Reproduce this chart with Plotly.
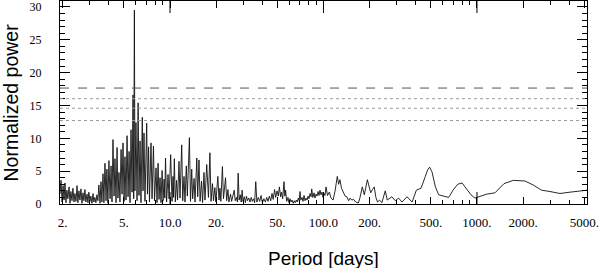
import plotly.graph_objects as go

# Periodogram (period in days, normalized power)
period = [
    1.92, 1.95, 1.98, 2.01, 2.04, 2.07, 2.10, 2.13, 2.16, 2.20, 2.23, 2.26, 2.30, 2.33, 2.37, 2.40,
    2.44, 2.48, 2.51, 2.55, 2.59, 2.63, 2.67, 2.71, 2.75, 2.79, 2.83, 2.88, 2.92, 2.96, 3.01, 3.05,
    3.10, 3.15, 3.19, 3.24, 3.29, 3.34, 3.39, 3.44, 3.50, 3.55, 3.60, 3.66, 3.71, 3.77, 3.83, 3.88,
    3.94, 4.00, 4.07, 4.13, 4.19, 4.25, 4.32, 4.38, 4.45, 4.52, 4.58, 4.65, 4.72, 4.80, 4.87, 4.94,
    5.02, 5.09, 5.17, 5.25, 5.33, 5.41, 5.49, 5.57, 5.66, 5.74, 5.80, 5.86, 5.91, 6.00, 6.10, 6.20,
    6.28, 6.38, 6.47, 6.60, 6.67, 6.77, 6.87, 7.05, 7.13, 7.25, 7.35, 7.52, 7.64, 7.80, 7.93, 8.11,
    8.23, 8.36, 8.48, 8.61, 8.74, 8.88, 9.01, 9.15, 9.25, 9.35, 9.50, 9.71, 9.86, 10.1, 10.31, 10.46,
    10.55, 10.67, 10.83, 11.03, 11.2, 11.45, 11.62, 11.92, 12.1, 12.34, 12.52, 12.77, 12.97, 13.38, 13.6, 13.85,
    14.05, 14.35, 14.55, 14.95, 15.15, 15.45, 15.7, 16.05, 16.3, 16.65, 16.9, 17.35, 17.8, 18.2, 18.5, 18.9,
    19.2, 19.6, 19.9, 20.5, 20.85, 21.15, 21.45, 21.95, 22.3, 23.0, 23.4, 23.85, 24.2, 24.8, 25.2, 25.8,
    26.2, 26.6, 27.1, 27.5, 27.8, 28.2, 28.7, 29.1, 29.5, 29.9, 30.5, 31.0, 31.5, 32.0, 32.6, 33.2,
    33.8, 34.4, 35.0, 35.6, 36.2, 36.8, 37.6, 38.4, 39.2, 40.0, 40.9, 41.8, 42.7, 43.5, 44.4, 45.3,
    46.2, 47.0, 48.0, 48.8, 49.8, 50.8, 51.6, 52.6, 53.3, 54.2, 55.3, 56.0, 56.6, 57.6, 58.7, 59.6,
    60.5, 61.5, 62.4, 63.5, 64.5, 65.5, 66.5, 67.5, 68.5, 69.5, 70.3, 71.2, 72.5, 73.5, 74.7, 75.8,
    77.0, 78.2, 79.3, 80.5, 81.7, 83.0, 83.8, 85.2, 86.8, 88.0, 89.4, 90.8, 92.2, 93.5, 94.9, 96.3,
    97.8, 99.3, 100.8, 102.3, 103.9, 106.3, 109.1, 112, 115.5, 119, 123, 125.5, 128, 131, 134.8, 138.3,
    141.9, 145.8, 149, 153, 157, 162, 168.8, 173, 179, 184.5, 193.2, 203, 208.2, 214, 219.5, 225,
    232, 240, 252.6, 260.3, 279, 293.6, 308.5, 324.5, 350, 378, 402.6, 432, 460.8, 477, 491.5, 509,
    536, 563, 607, 654, 698, 748, 799, 861, 914, 970, 1046, 1157, 1310, 1500, 1725, 2054,
    2324, 2633, 2990, 3474, 4036, 4690, 5210,
]
power = [
    1.5, 3.6, 0.3, 2.8, 0.6, 3.2, 0.2, 2.1, 0.8, 2.6, 0.1, 1.9, 0.5, 2.4, 0.3, 1.6,
    0.4, 2.8, 0.2, 2.0, 0.6, 2.3, 0.1, 1.7, 0.5, 2.2, 0.3, 1.5, 0.2, 1.8, 0.4, 1.2,
    0.1, 1.6, 0.3, 1.0, 0.2, 1.4, 0.5, 2.9, 0.1, 3.4, 0.3, 4.6, 0.2, 6.2, 0.5, 5.3,
    0.1, 6.6, 0.8, 5.8, 0.3, 9.8, 1.2, 6.9, 0.2, 8.6, 0.9, 4.8, 0.3, 8.3, 1.5, 9.3,
    0.4, 7.2, 0.6, 10.4, 1.1, 8.0, 0.2, 11.3, 1.8, 16.6, 0.8, 29.5, 2.0, 12.4, 0.5, 15.4,
    1.3, 9.6, 0.2, 13.2, 2.0, 10.8, 0.4, 12.3, 1.5, 8.7, 0.3, 9.3, 0.8, 8.8, 0.5, 5.5,
    0.2, 6.2, 0.7, 4.0, 0.2, 5.1, 0.5, 3.8, 0.9, 7.0, 0.3, 4.5, 0.8, 7.5, 0.4, 4.2,
    1.0, 6.9, 0.3, 3.6, 0.6, 6.5, 0.9, 9.0, 0.5, 4.2, 0.3, 5.8, 1.2, 10.1, 0.4, 5.3,
    0.8, 3.9, 0.3, 7.0, 1.1, 6.7, 0.4, 3.5, 0.2, 4.8, 0.6, 6.0, 1.0, 7.8, 0.4, 3.1,
    0.5, 2.5, 0.3, 4.2, 0.6, 2.4, 0.4, 5.7, 0.8, 4.0, 0.5, 2.2, 0.3, 1.5, 0.4, 1.2,
    2.1, 0.5, 1.0, 0.3, 4.7, 0.6, 1.4, 0.3, 2.1, 0.4, 1.1, 0.2, 1.2, 0.5, 0.9, 0.3,
    1.0, 0.4, 0.8, 0.2, 3.4, 0.3, 1.0, 0.4, 1.3, 0.2, 0.8, 0.3, 1.0, 0.4, 1.2, 0.5,
    1.6, 0.7, 2.2, 1.0, 2.0, 1.2, 2.6, 1.1, 1.8, 0.8, 3.4, 1.2, 2.1, 0.4, 1.0, 0.2,
    0.8, 0.3, 0.6, 0.1, 0.5, 0.2, 0.6, 0.3, 0.9, 0.5, 1.9, 0.6, 1.0, 0.4, 1.3, 0.5,
    0.9, 0.6, 1.2, 0.8, 1.6, 1.1, 2.3, 1.0, 1.7, 0.9, 1.5, 1.2, 1.9, 1.3, 2.1, 1.4,
    1.8, 1.0, 1.6, 1.3, 2.6, 1.3, 1.8, 0.9, 0.6, 2.0, 4.2, 3.0, 3.7, 2.4, 1.8, 1.2,
    1.1, 0.5, 0.9, 0.6, 0.7, 0.3, 0.15, 1.0, 2.6, 1.4, 3.7, 1.7, 2.2, 2.6, 1.0, 0.3,
    0.6, 0.2, 2.0, 0.6, 1.1, 0.5, 0.9, 0.3, 1.1, 0.3, 2.1, 2.4, 4.2, 5.2, 5.6, 4.9,
    2.6, 1.4, 1.2, 1.0, 2.1, 3.0, 3.2, 2.1, 1.4, 0.9, 1.2, 1.5, 1.7, 3.1, 3.6, 3.5,
    2.9, 2.1, 1.9, 1.6, 1.8, 2.0, 2.1,
]

# False-alarm levels (normalized power)
fap_dashed = [17.65]
fap_dotted = [16.03, 14.58, 12.7]

x_tickvals = [2, 5, 10, 20, 50, 100, 200, 500, 1000, 2000, 5000]
x_ticktext = ["2.", "5.", "10.0", "20.", "50.", "100.0", "200.", "500.", "1000.", "2000.", "5000."]
y_tickvals = [0, 5, 10, 15, 20, 25, 30]

x_minor = [m * 10 ** d for d in range(0, 4) for m in range(1, 10)]
decades = [10, 100, 1000]

serif = "Liberation Serif"
sans = "Liberation Sans"

fig = go.Figure()
fig.add_trace(go.Scatter(x=period, y=power, mode="lines",
                         line=dict(color="#111111", width=0.9), showlegend=False,
                         hoverinfo="skip"))

shapes = []
for v in fap_dashed:
    shapes.append(dict(type="line", xref="paper", x0=0, x1=1, yref="y", y0=v, y1=v,
                       line=dict(color="#555555", width=1, dash="dash")))
for v in fap_dotted:
    shapes.append(dict(type="line", xref="paper", x0=0, x1=1, yref="y", y0=v, y1=v,
                       line=dict(color="#999999", width=1, dash="dot")))
for d in decades:
    shapes.append(dict(type="line", xref="x", x0=d, x1=d, yref="paper", y0=1, y1=1 - 12 / 203,
                       line=dict(color="black", width=1)))
    shapes.append(dict(type="line", xref="x", x0=d, x1=d, yref="paper", y0=0, y1=12 / 203,
                       line=dict(color="black", width=1)))

fig.update_layout(
    template="none",
    width=600, height=268,
    margin=dict(l=60, r=13, t=1, b=64, pad=0),
    paper_bgcolor="white", plot_bgcolor="white",
    shapes=shapes,
    xaxis=dict(type="log", range=[0.2833, 3.7168], automargin=False,
               tickmode="array", tickvals=x_tickvals, ticktext=x_ticktext,
               ticks="inside", ticklen=7, tickcolor="black", tickwidth=1,
               minor=dict(tickmode="array", tickvals=x_minor, ticks="inside", ticklen=4,
                          tickcolor="black", showgrid=False),
               showline=True, linecolor="black", linewidth=1, mirror="allticks",
               showgrid=False, zeroline=False,
               tickfont=dict(family=serif, size=13, color="black"),
               ticklabelstandoff=6),
    yaxis=dict(range=[0, 30.9], automargin=False, tickmode="array", tickvals=y_tickvals,
               ticks="inside", ticklen=10, tickcolor="black", tickwidth=1,
               minor=dict(dtick=1, ticks="inside", ticklen=5, tickcolor="black", showgrid=False),
               showline=True, linecolor="black", linewidth=1, mirror="allticks",
               showgrid=False, zeroline=False,
               tickfont=dict(family=serif, size=12, color="black"),
               ticklabelstandoff=15),
    annotations=[
        dict(text="Normalized power", xref="paper", yref="paper", x=0, y=0.5,
             xanchor="center", yanchor="middle", xshift=-50, textangle=-90, showarrow=False,
             font=dict(family=sans, size=19.5, color="black")),
        dict(text="Period [days]", xref="paper", yref="paper", x=0.5, y=0,
             xanchor="center", yanchor="middle", yshift=-54, showarrow=False,
             font=dict(family=sans, size=19, color="black")),
    ],
)

fig.write_html(
    "out.html",
    config={"displayModeBar": False},
    post_script="document.body.style.margin='0px';document.body.style.overflow='hidden';",
)
